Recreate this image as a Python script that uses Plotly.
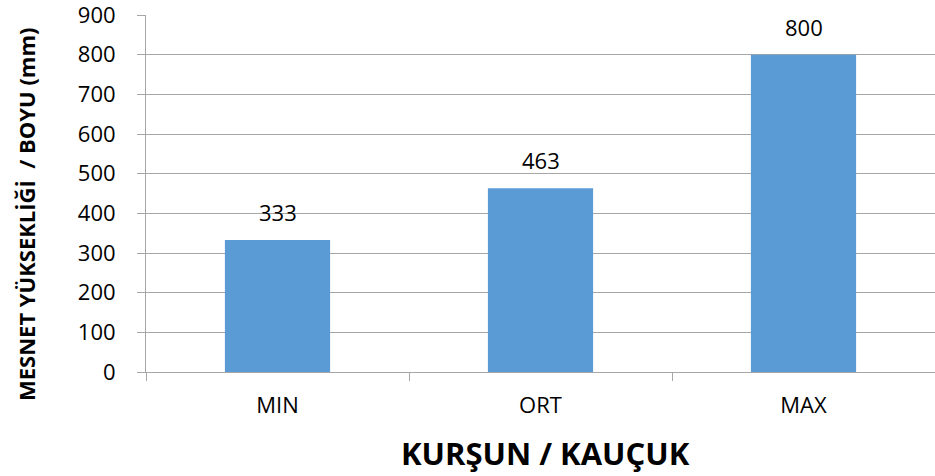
import plotly.graph_objects as go

categories = ["MIN", "ORT", "MAX"]
values = [333, 463, 800]
y_ticks = [0, 100, 200, 300, 400, 500, 600, 700, 800, 900]

FONT = "Open Sans"

fig = go.Figure()
fig.add_trace(go.Bar(
    x=categories, y=values,
    marker=dict(color="#5B9BD5", line=dict(width=0)),
    width=0.4,
    cliponaxis=False,
))

annotations = [
    dict(x=c, y=v, xref="x", yref="y", text=str(v), showarrow=False,
         yshift=28, xanchor="center", yanchor="middle",
         font=dict(family=FONT, size=22, color="#000000"))
    for c, v in zip(categories, values)
]
annotations += [
    dict(text="MESNET YÜKSEKLİĞİ  / BOYU (mm)", textangle=-90,
         xref="paper", yref="paper", x=(26 - 146) / 789, y=(372 - 214) / 357,
         xanchor="center", yanchor="middle", showarrow=False,
         font=dict(family=FONT, size=22, color="#000000", weight="bold")),
    dict(text="KURŞUN / KAUÇUK",
         xref="paper", yref="paper", x=(545 - 146) / 789, y=-(453 - 372) / 357,
         xanchor="center", yanchor="middle", showarrow=False,
         font=dict(family=FONT, size=31, color="#000000", weight="bold")),
]

fig.update_layout(
    width=935, height=476,
    margin=dict(l=146, r=0, t=15, b=104),
    paper_bgcolor="white", plot_bgcolor="white",
    showlegend=False,
    font=dict(family=FONT, color="#000000"),
    xaxis=dict(
        type="category", automargin=False,
        showline=True, linecolor="#a6a6a6", linewidth=1,
        ticks="outside", ticklen=8, tickcolor="#a6a6a6", tickson="boundaries",
        tickfont=dict(family=FONT, size=22, color="#000000"),
        ticklabelstandoff=14,
        showgrid=False,
    ),
    yaxis=dict(
        range=[0, 900], tickvals=y_ticks, automargin=False,
        showline=True, linecolor="#a6a6a6", linewidth=1,
        ticks="outside", ticklen=8, tickcolor="#a6a6a6",
        showgrid=True, gridcolor="#a6a6a6", gridwidth=1,
        zeroline=False,
        tickfont=dict(family=FONT, size=22, color="#000000"),
        ticklabelstandoff=17,
        ticklabeloverflow="allow",
    ),
    annotations=annotations,
    bargap=0.6,
)

fig.write_html("out.html", config={"displayModeBar": False},
               post_script="document.body.style.margin='0';")
